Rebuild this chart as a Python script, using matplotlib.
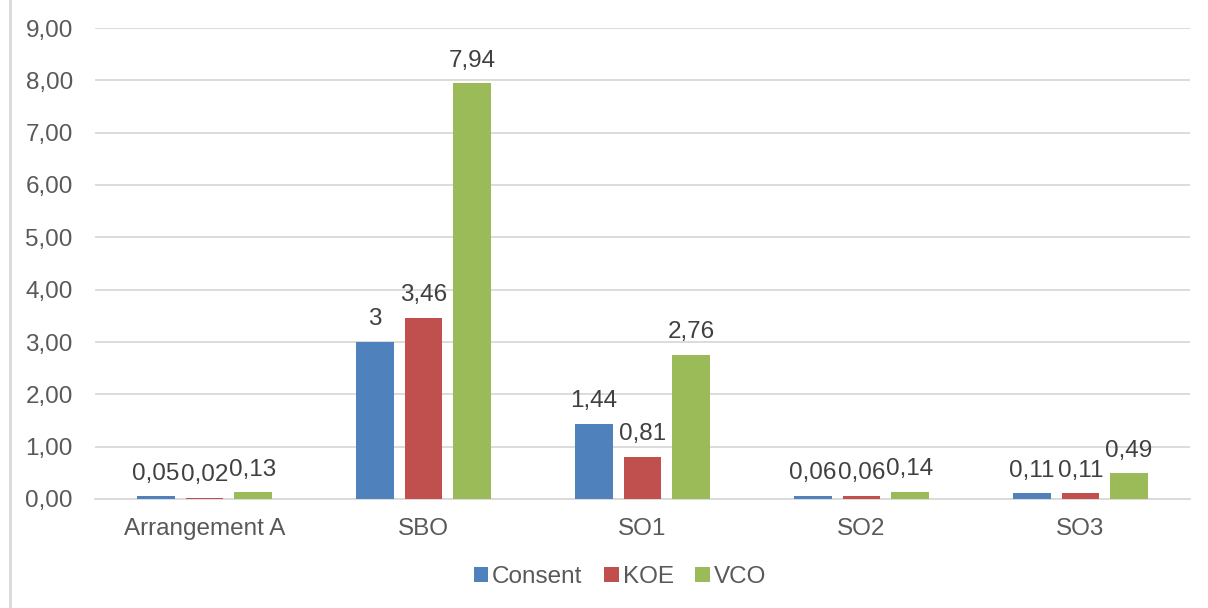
import numpy as np
import matplotlib.pyplot as plt
from matplotlib.lines import Line2D

categories = ["Arrangement A", "SBO", "SO1", "SO2", "SO3"]
consent = [0.05, 3, 1.44, 0.06, 0.11]
koe = [0.02, 3.46, 0.81, 0.06, 0.11]
vco = [0.13, 7.94, 2.76, 0.14, 0.49]
labels_consent = ["0,05", "3", "1,44", "0,06", "0,11"]
labels_koe = ["0,02", "3,46", "0,81", "0,06", "0,11"]
labels_vco = ["0,13", "7,94", "2,76", "0,14", "0,49"]
yticks = [0, 1, 2, 3, 4, 5, 6, 7, 8, 9]

plt.rcParams['font.family'] = ['Liberation Sans', 'DejaVu Sans']
txt = '#595959'
grid = '#D9D9D9'
fs = 17.5

fig = plt.figure(figsize=(12.08, 6.08), dpi=100)
ax = fig.add_axes([95 / 1208, 1 - 499 / 608, 1095 / 1208, 471 / 608])

x = np.arange(len(categories))
w = 0.173
step = 0.222
series = [
    (consent, labels_consent, '#4F81BD', 'Consent'),
    (koe, labels_koe, '#C0504D', 'KOE'),
    (vco, labels_vco, '#9BBB59', 'VCO'),
]
for i, (vals, labs, col, name) in enumerate(series):
    pos = x + (i - 1) * step
    bars = ax.bar(pos, vals, width=w, color=col, label=name, zorder=3)
    for b, lab in zip(bars, labs):
        ax.text(b.get_x() + b.get_width() / 2, b.get_height() + 0.22, lab,
                ha='center', va='bottom', fontsize=fs, color='#404040')

ax.set_xlim(-0.5, len(categories) - 0.5)
ax.set_ylim(0, 9)
ax.set_yticks(yticks)
ax.set_yticklabels([f"{v:.2f}".replace('.', ',') for v in yticks])
ax.set_xticks(x)
ax.set_xticklabels(categories)
ax.tick_params(axis='both', length=0, labelsize=fs, colors=txt)
ax.tick_params(axis='y', pad=16)
ax.tick_params(axis='x', pad=14)
ax.yaxis.grid(True, color=grid, linewidth=1.3, zorder=0)
for s in ['top', 'right', 'left']:
    ax.spines[s].set_visible(False)
ax.spines['bottom'].set_color(grid)
ax.spines['bottom'].set_linewidth(1.3)

leg = fig.legend(loc='center', bbox_to_anchor=(620 / 1208, 1 - 577 / 608), ncol=3,
                 frameon=False, fontsize=fs, handlelength=0.6, handleheight=0.6,
                 handletextpad=0.15, columnspacing=0.9)
for t in leg.get_texts():
    t.set_color(txt)

fig.add_artist(Line2D([10 / 1208, 10 / 1208], [0, 1], color=grid, linewidth=2,
                      transform=fig.transFigure))

fig.savefig('out.png', dpi=100)
